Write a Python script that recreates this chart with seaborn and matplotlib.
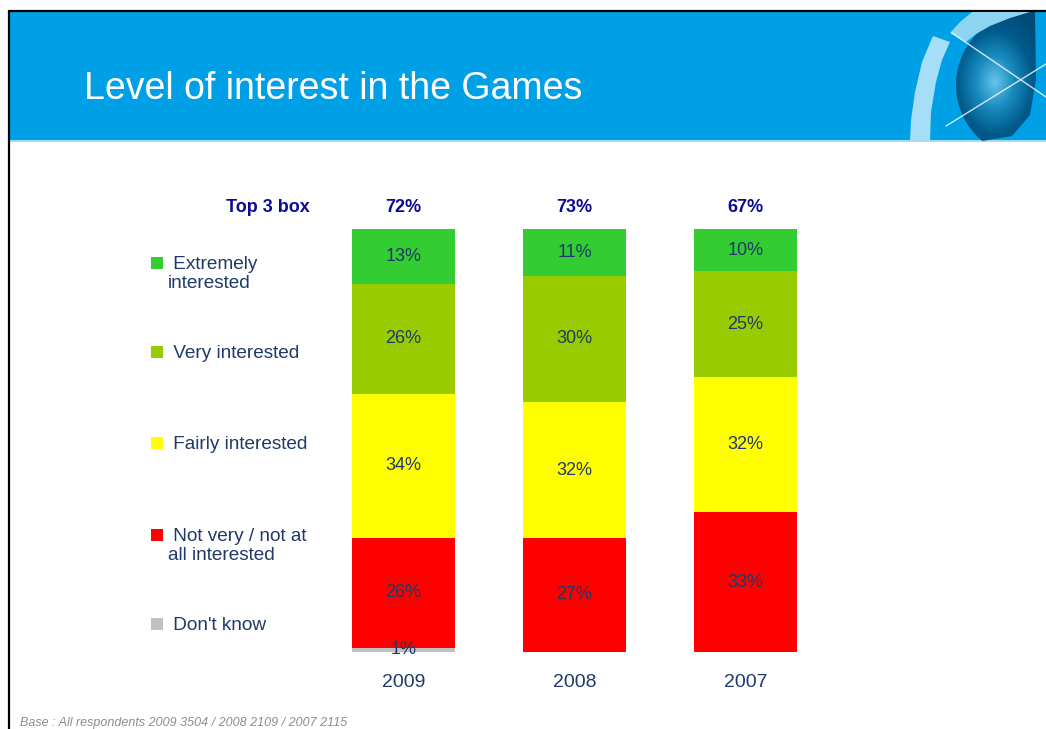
import numpy as np
import matplotlib
matplotlib.use("Agg")
import matplotlib.pyplot as plt
import seaborn as sns
from matplotlib.patches import Rectangle, Polygon

# ---- data -------------------------------------------------------------
years = ["2009", "2008", "2007"]
dont_know = [1, 0, 0]
not_very = [26, 27, 33]
fairly = [34, 32, 32]
very = [26, 30, 25]
extremely = [13, 11, 10]
top3_box = [72, 73, 67]

segment_names = [" Don't know", " Not very / not at\nall interested", " Fairly interested",
                 " Very interested", " Extremely\ninterested"]
segment_colors = ["#C0C0C0", "#FF0000", "#FFFF00", "#99CC00", "#33CC33"]
segment_values = [dont_know, not_very, fairly, very, extremely]

title = "Level of interest in the Games"
top3_label = "Top 3 box"
footnote = "Base : All respondents 2009 3504 / 2008 2109 / 2007 2115"

# ---- style ------------------------------------------------------------
sns.set_style("white")
plt.rcParams["font.family"] = ["Liberation Sans", "DejaVu Sans"]

W, H = 1046, 729
TEXT = "#1F3A68"
NAVY = "#0A0A96"
fig = plt.figure(figsize=(W / 100, H / 100), dpi=100)

# background layer in pixel coordinates (origin top-left)
bg = fig.add_axes([0, 0, 1, 1])
bg.set_xlim(0, W)
bg.set_ylim(H, 0)
bg.axis("off")

# header band and frame
bg.add_patch(Rectangle((10, 11), W - 10, 130, color="#00A0E6", lw=0))
bg.add_patch(Rectangle((10, 140), W - 10, 2, color="#9FDCF5", lw=0))
bg.plot([9, W], [10.5, 10.5], color="black", lw=1.6, solid_capstyle="butt")
bg.plot([9, 9], [10, H], color="black", lw=1.6, solid_capstyle="butt")

# emblem at the right of the header
cx, cy, r = 1029, 85, 73
lens_pts = [(1033, 12)]
for tt in np.linspace(0, 1, 40):
    ang = np.deg2rad(-90) - tt * np.deg2rad(150)
    lens_pts.append((cx + r * np.cos(ang), cy + r * np.sin(ang)))
lens_pts += [(982, 141), (1012, 136), (1030, 115), (1036, 80), (1035, 12)]
lens = Polygon(lens_pts, closed=True, facecolor="none", edgecolor="none")
bg.add_patch(lens)
gx, gy = np.meshgrid(np.linspace(940, 1046, 120), np.linspace(11, 141, 140))
grad = np.clip(np.hypot((gx - 995) / 40, (gy - 82) / 55), 0, 1.4)
lens_cmap = matplotlib.colors.LinearSegmentedColormap.from_list(
    "lens", ["#66C4EA", "#1A8CC0", "#005B8C", "#004A78"])
img = bg.imshow(grad, extent=(940, 1046, 141, 11), cmap=lens_cmap, origin="upper",
                aspect="auto", zorder=2)
img.set_clip_path(lens)
bg.set_xlim(0, W)
bg.set_ylim(H, 0)

bg.add_patch(Polygon([(933, 36), (922, 62), (915, 92), (911, 120), (910, 141),
                      (930, 141), (931, 112), (936, 82), (942, 60), (950, 42)],
                     closed=True, facecolor="#A6DDF7", edgecolor="none", zorder=3))
bg.add_patch(Polygon([(950, 33), (960, 22), (972, 12), (1030, 12), (1010, 18),
                      (990, 26), (976, 34), (966, 42)],
                     closed=True, facecolor="#8FD3F3", edgecolor="none", zorder=3))
bg.plot([952, W], [33, 97], color="white", lw=1.0, alpha=0.8, zorder=4)
bg.plot([946, W], [126, 64], color="white", lw=1.0, alpha=0.8, zorder=4)

bg.text(84, 99, title, color="white", fontsize=27, va="baseline", ha="left")

# legend drawn beside the bars
legend_y = [624, 535, 443, 352, 263]
for name, col, ly in zip(segment_names, segment_colors, legend_y):
    bg.add_patch(Rectangle((151, ly - 6), 12, 12, color=col, lw=0))
    bg.text(168, ly - 7, name, color=TEXT, fontsize=13.7, va="top", ha="left",
            linespacing=1.12)

bg.text(310, 207, top3_label, color=NAVY, fontsize=13, fontweight="bold", ha="right", va="center")
bg.text(20, 726, footnote, color="#8C8C8C", fontsize=9, style="italic", ha="left", va="baseline")

# ---- stacked bars -----------------------------------------------------
ax = fig.add_axes([318 / W, 77 / H, 513 / W, 423 / H])
ax.patch.set_visible(False)

bottom = np.zeros(len(years))
for name, col, vals in zip(segment_names, segment_colors, segment_values):
    vals = np.array(vals, dtype=float)
    sns.barplot(x=years, y=vals, bottom=bottom, color=col, saturation=1, width=0.6,
                errorbar=None, order=years, linewidth=0, ax=ax)
    for i, v in enumerate(vals):
        if v > 0:
            ax.text(i, bottom[i] + v / 2, f"{int(v)}%", ha="center", va="center",
                    fontsize=13, color=TEXT)
    bottom += vals

for i, v in enumerate(top3_box):
    ax.text(i, 105.0, f"{v}%", ha="center", va="center", fontsize=13,
            fontweight="bold", color=NAVY, clip_on=False)

ax.set_xlim(-0.5, 2.5)
ax.set_ylim(0, 100)
ax.set_yticks([])
ax.set_xlabel("")
ax.set_ylabel("")
ax.tick_params(axis="x", length=0, pad=16, labelsize=14, labelcolor=TEXT)
sns.despine(ax=ax, left=True, bottom=True)

fig.savefig("out.png", dpi=100)
